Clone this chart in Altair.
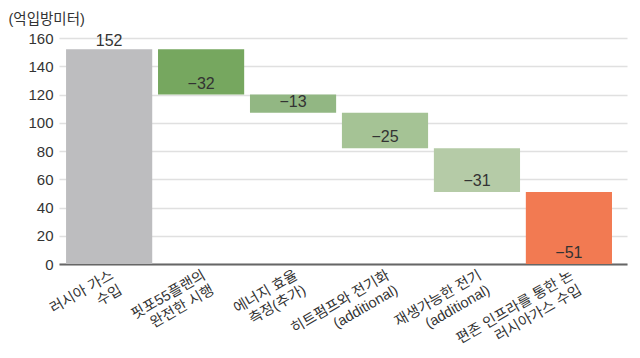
import altair as alt
import pandas as pd

categories = [
    "러시아 가스\n수입",
    "핏포55플랜의\n완전한 시행",
    "에너지 효율\n측정(추가)",
    "히트펌프와 전기화\n(additional)",
    "재생가능한 전기\n(additional)",
    "편존 인프라를 통한 논\n러시아가스 수입",
]
values = [152, -32, -13, -25, -31, -51]
labels = ["152", "−32", "−13", "−25", "−31", "−51"]
colors = ["#bdbdbf", "#76a75f", "#92b783", "#a5c395", "#b5cba7", "#f27a52"]
y_ticks = [0, 20, 40, 60, 80, 100, 120, 140, 160]

starts, ends = [], []
run = 0
for v in values:
    starts.append(run)
    run += v
    ends.append(run)

df = pd.DataFrame({
    "cat": categories,
    "start": starts,
    "end": ends,
    "label": labels,
    "top": [max(s, e) for s, e in zip(starts, ends)],
    "bottom": [min(s, e) for s, e in zip(starts, ends)],
    "first": [i == 0 for i in range(len(categories))],
})

FONT = "Liberation Sans, Noto Sans CJK KR, sans-serif"

x = alt.X("cat:N", sort=categories,
          scale=alt.Scale(paddingInner=0.063, paddingOuter=0.12, align=0.32),
          axis=alt.Axis(title=None, labelAngle=-30, labelAlign="right", labelBaseline="top",
                        labelExpr="split(datum.label, '\\n')", labelLineHeight=17,
                        labelFontSize=14.5, labelColor="#333", labelFont=FONT, labelPadding=4,
                        labelOverlap=False, labelBound=False,
                        ticks=False, domainColor="#666", domainWidth=2, grid=False))

bars = alt.Chart(df).mark_bar().encode(
    x=x,
    y=alt.Y("start:Q", scale=alt.Scale(domain=[0, 160], nice=False),
            axis=alt.Axis(title="(억입방미터)", titleAngle=0, titleAlign="left", titleBaseline="top",
                          titleX=-51, titleY=-26, titleFont=FONT, titleFontSize=14.5,
                          titleFontWeight="normal", titleColor="#333",
                          values=y_ticks, tickCount=9, labelOverlap=False,
                          labelFontSize=15, labelColor="#333", labelFont=FONT, labelPadding=6,
                          ticks=False, domain=False, gridColor="#e0e0e0", gridWidth=1.5)),
    y2="end:Q",
    color=alt.Color("cat:N", sort=categories, scale=alt.Scale(domain=categories, range=colors), legend=None),
)

first_label = alt.Chart(df).transform_filter("datum.first").mark_text(
    baseline="alphabetic", dy=-3, fontSize=16, color="#333", font=FONT
).encode(x=alt.X("cat:N", sort=categories), y="top:Q", text="label:N")

other_labels = alt.Chart(df).transform_filter("!datum.first").mark_text(
    baseline="alphabetic", dy=-6, fontSize=16, color="#333", font=FONT
).encode(x=alt.X("cat:N", sort=categories), y="bottom:Q", text="label:N")

chart = alt.layer(bars, first_label, other_labels).properties(
    width=568, height=226,
    padding={"left": 0, "top": 3, "right": 5, "bottom": 5},
).configure_view(stroke=None)

chart.save("out.html", embed_options={"renderer": "svg", "actions": False})
